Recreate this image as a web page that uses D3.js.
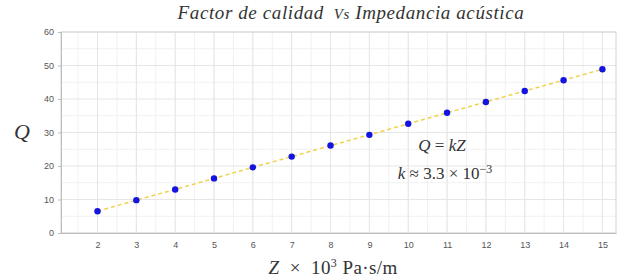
<!DOCTYPE html>
<html>
<head>
<meta charset="utf-8">
<script src="https://cdn.jsdelivr.net/npm/d3@7"></script>
<style>
  body { margin: 0; background: #fff; }
  text { font-family: "Liberation Sans", sans-serif; }
  .serif { font-family: "Liberation Serif", serif; }
</style>
</head>
<body>
<div id="chart"></div>
<script>
// Data.
const impedance = [2, 3, 4, 5, 6, 7, 8, 9, 10, 11, 12, 13, 14, 15];
const quality = [6.5, 9.8, 13.0, 16.3, 19.6, 22.8, 26.1, 29.3, 32.6, 35.9, 39.1, 42.4, 45.6, 48.9];
const xTicks = [2, 3, 4, 5, 6, 7, 8, 9, 10, 11, 12, 13, 14, 15];
const yTicks = [0, 10, 20, 30, 40, 50, 60];

const w = 618, h = 279;
const margin = { top: 32, right: 2, bottom: 46, left: 61 };

const xScale = d3.scaleLinear()
                .domain([1.06, 15.35])
                .range([margin.left, w - margin.right]);
const yScale = d3.scaleLinear()
                .domain([0, 60])
                .range([h - margin.bottom, margin.top]);

let svg = d3.select("#chart")
            .append("svg")
            .attr("width", w)
            .attr("height", h);

// Minor grid.
const xMinor = d3.range(1.5, 15.4, 0.5);
const yMinor = d3.range(5, 60, 10);
svg.append("g").selectAll("line")
    .data(xMinor)
    .enter()
    .append("line")
    .attr("x1", d => xScale(d)).attr("x2", d => xScale(d))
    .attr("y1", yScale(0)).attr("y2", yScale(60))
    .attr("stroke", "#f1f1f1");
svg.append("g").selectAll("line")
    .data(yMinor)
    .enter()
    .append("line")
    .attr("x1", xScale.range()[0]).attr("x2", xScale.range()[1])
    .attr("y1", d => yScale(d)).attr("y2", d => yScale(d))
    .attr("stroke", "#f1f1f1");

// Major grid.
svg.append("g").selectAll("line")
    .data(xTicks)
    .enter()
    .append("line")
    .attr("x1", d => xScale(d)).attr("x2", d => xScale(d))
    .attr("y1", yScale(0)).attr("y2", yScale(60))
    .attr("stroke", "#e6e6e6");
svg.append("g").selectAll("line")
    .data(yTicks)
    .enter()
    .append("line")
    .attr("x1", xScale.range()[0]).attr("x2", xScale.range()[1])
    .attr("y1", d => yScale(d)).attr("y2", d => yScale(d))
    .attr("stroke", "#e6e6e6");

// Box.
svg.append("rect")
    .attr("x", margin.left)
    .attr("y", margin.top)
    .attr("width", w - margin.left - margin.right)
    .attr("height", h - margin.top - margin.bottom)
    .attr("fill", "none")
    .attr("stroke", "#d4d4d4");

// Axes.
const xAxis = d3.axisBottom(xScale)
                .tickValues(xTicks)
                .tickSize(0)
                .tickPadding(9);
const gx = svg.append("g")
    .attr("transform", `translate(0, ${yScale(0)})`)
    .call(xAxis);
gx.select(".domain").attr("stroke", "#bdbdbd");
gx.selectAll("text").attr("fill", "#555").style("font-size", "9px");

const yAxis = d3.axisLeft(yScale)
                .tickValues(yTicks)
                .tickSize(3)
                .tickPadding(4);
const gy = svg.append("g")
    .attr("transform", `translate(${margin.left}, 0)`)
    .call(yAxis);
gy.select(".domain").attr("stroke", "#bdbdbd");
gy.selectAll(".tick line").attr("stroke", "#bdbdbd");
gy.selectAll("text").attr("fill", "#555").style("font-size", "9px");

// Dashed fit line.
const line = d3.line()
    .x((d, i) => xScale(impedance[i]))
    .y(d => yScale(d));
svg.append("path")
    .datum(quality)
    .attr("d", line)
    .attr("fill", "none")
    .attr("stroke", "#f0d24a")
    .attr("stroke-width", 1.5)
    .attr("stroke-dasharray", "4,3");

// Points.
svg.selectAll("circle")
    .data(quality)
    .enter()
    .append("circle")
    .attr("cx", (d, i) => xScale(impedance[i]))
    .attr("cy", d => yScale(d))
    .attr("r", 3.2)
    .attr("fill", "#1414e0");

// Title.
svg.append("text")
    .attr("class", "serif")
    .attr("x", 351)
    .attr("y", 19)
    .attr("text-anchor", "middle")
    .style("font-size", "19px")
    .style("font-style", "italic")
    .style("letter-spacing", "0.6px")
    .attr("fill", "#333")
    .html('Factor de calidad <tspan style="font-size:15px">&#160;Vs</tspan> Impedancia acústica');

// Axis labels.
svg.append("text")
    .attr("class", "serif")
    .attr("x", 22)
    .attr("y", 139)
    .attr("text-anchor", "middle")
    .style("font-size", "22px")
    .style("font-style", "italic")
    .attr("fill", "#333")
    .text("Q");

svg.append("text")
    .attr("class", "serif")
    .attr("x", 333)
    .attr("y", 274)
    .attr("text-anchor", "middle")
    .style("font-size", "19px")
    .style("letter-spacing", "0.4px")
    .attr("fill", "#333")
    .html('<tspan font-style="italic">Z</tspan>&#160; × &#160;10<tspan dy="-7" style="font-size:12px">3</tspan><tspan dy="7"> Pa·s/m</tspan>');

// Annotations.
svg.append("text")
    .attr("class", "serif")
    .attr("x", 442)
    .attr("y", 151)
    .attr("text-anchor", "middle")
    .style("font-size", "17px")
    .attr("fill", "#333")
    .html('<tspan font-style="italic">Q</tspan> = <tspan font-style="italic">kZ</tspan>');

svg.append("text")
    .attr("class", "serif")
    .attr("x", 445)
    .attr("y", 179)
    .attr("text-anchor", "middle")
    .style("font-size", "17px")
    .attr("fill", "#333")
    .html('<tspan font-style="italic">k</tspan> ≈ 3.3 × 10<tspan dy="-6" style="font-size:12px">−3</tspan>');
</script>
</body>
</html>
